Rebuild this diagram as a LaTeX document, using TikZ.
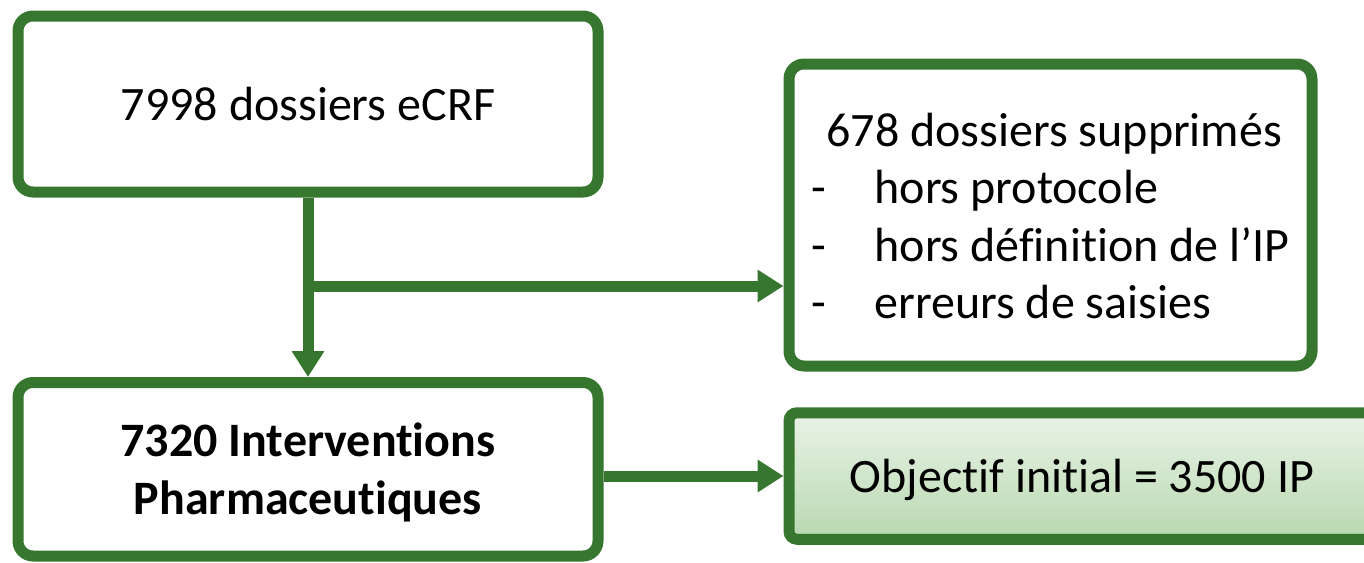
\documentclass[tikz,border=0pt]{standalone}
\usepackage{fontspec}
\setmainfont{Carlito}[Ligatures={NoCommon,NoContextual}]
\usetikzlibrary{arrows.meta,positioning,calc}
\definecolor{boxgreen}{RGB}{55,118,47}
\definecolor{shadetop}{RGB}{234,243,231}
\definecolor{shadebot}{RGB}{184,216,176}
\tikzset{
  flowbox/.style={draw=boxgreen, line width=11pt, rounded corners=15pt, fill=white,
    inner sep=0pt, align=center, font=\fontsize{48}{57.6}\selectfont},
  goalbox/.style={flowbox, rounded corners=8pt, top color=shadetop, bottom color=shadebot},
  flowarrow/.style={draw=boxgreen, line width=11pt, -{Triangle[width=31pt,length=26pt]}},
  flowline/.style={draw=boxgreen, line width=11pt}
}
\begin{document}
\begin{tikzpicture}[x=1pt,y=-1pt]
\useasboundingbox (0,0) rectangle (1364,562);
\clip (0,0) rectangle (1364,562);
\node[flowbox, minimum width=580pt, minimum height=176pt] (dossiers) at (308,104) {7998 dossiers eCRF};
\node[flowbox, minimum width=580pt, minimum height=173.5pt] (ip) at (308,469.25)
  {\raisebox{-5pt}[\height][\depth]{\begin{tabular}{@{}c@{}}\bfseries 7320 Interventions\\\bfseries Pharmaceutiques\end{tabular}}};
\node[flowbox, minimum width=523pt, minimum height=302pt] (suppr) at (1050.5,215)
  {\raisebox{-6pt}[\height][\depth]{\begin{tabular}{@{}l@{}}\hspace{15pt}678 dossiers supprimés\\
   \makebox[63pt][l]{-}hors protocole\\
   \makebox[63pt][l]{-}hors définition de l’IP\\
   \makebox[63pt][l]{-}erreurs de saisies\end{tabular}}};
\node[goalbox, minimum width=586pt, minimum height=126.5pt] (goal) at (1082,476)
  {\raisebox{-4pt}[\height][\depth]{Objectif initial = 3500 IP}};
\coordinate (branch) at (308,286);
\draw[flowline] (dossiers.south) -- (branch);
\draw[flowarrow] (branch) -- (ip.north);
\draw[flowarrow] (branch) -- (branch -| suppr.west);
\draw[flowarrow] (ip.east |- goal.west) -- (goal.west);
\end{tikzpicture}
\end{document}
